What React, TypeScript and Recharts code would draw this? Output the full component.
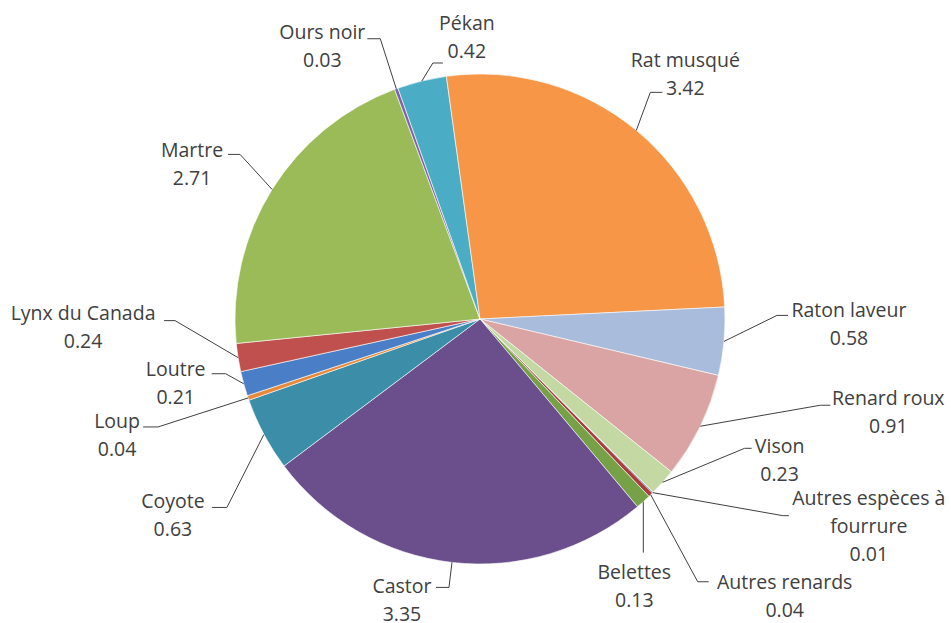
import React from "react";
import { Cell, Pie, PieChart } from "recharts";

// Species, in the order of the source sheet (alphabetical)
const species = [
  "Autres espèces à fourrure",
  "Autres renards",
  "Belettes",
  "Castor",
  "Coyote",
  "Loup",
  "Loutre",
  "Lynx du Canada",
  "Martre",
  "Ours noir",
  "Pékan",
  "Rat musqué",
  "Raton laveur",
  "Renard roux",
  "Vison",
];

const values = [
  0.01, 0.04, 0.13, 3.35, 0.63, 0.04, 0.21, 0.24, 2.71, 0.03, 0.42, 3.42, 0.58,
  0.91, 0.23,
];

const colors = [
  "#4F81BD",
  "#A5403C",
  "#77A146",
  "#6B4F8C",
  "#3C8EA8",
  "#E58A3C",
  "#4A7EC6",
  "#C0504D",
  "#9BBB59",
  "#8064A2",
  "#4BACC6",
  "#F79646",
  "#A9BCDB",
  "#D9A4A3",
  "#C4D8A3",
];

// Leader line / label placement, relative to the slice edge point
// elbow = edge + (ex, ey); tail = horizontal stub; text = offset from elbow
const labelLayout = [
  { ex: 130, ey: 23, tail: 6, tx: 86, ty: -18, wrap: 16 },
  { ex: 47, ey: 87, tail: 11, tx: 87, ty: 0 },
  { ex: 0, ey: 51, tail: 0, tx: -9, ty: 19 },
  { ex: -3, ey: 25, tail: -13, tx: -47, ty: -2 },
  { ex: -37, ey: 73, tail: -15, tx: -54, ty: -7 },
  { ex: -90, ey: 29, tail: -15, tx: -41, ty: -6 },
  { ex: -18, ey: -10, tail: -14, tx: -50, ty: -5 },
  { ex: -63, ey: -37, tail: -11, tx: -92, ty: -8 },
  { ex: -32, ey: -35, tail: -12, tx: -48, ty: -5 },
  { ex: -16, ey: -50, tail: -13, tx: -58, ty: -7 },
  { ex: 11, ey: -18, tail: 10, tx: 34, ty: -40 },
  { ex: 14, ey: -38, tail: 12, tx: 35, ty: -33 },
  { ex: 53, ey: -26, tail: 11, tx: 72, ty: -6 },
  { ex: 120, ey: -21, tail: 10, tx: 68, ty: -8 },
  { ex: 82, ey: -34, tail: 7, tx: 35, ty: -3 },
];

const data = species.map((name, i) => ({ name, value: values[i] }));

const RAD = Math.PI / 180;
const LINE_H = 28;
const TEXT = "#404040";

function wrapText(s: string, max?: number): string[] {
  if (!max) return [s];
  const out: string[] = [];
  let cur = "";
  for (const w of s.split(" ")) {
    const next = cur ? `${cur} ${w}` : w;
    if (next.length > max && cur) {
      out.push(cur);
      cur = w;
    } else cur = next;
  }
  if (cur) out.push(cur);
  return out;
}

function renderLabel(props: any) {
  const { cx, cy, midAngle, outerRadius, index, name, value } = props;
  const lay = labelLayout[index];
  const x0 = cx + outerRadius * Math.cos(-midAngle * RAD);
  const y0 = cy + outerRadius * Math.sin(-midAngle * RAD);
  const x1 = x0 + lay.ex;
  const y1 = y0 + lay.ey;
  const x2 = x1 + lay.tail;
  const lines = [...wrapText(name, lay.wrap), Number(value).toFixed(2)];
  const tx = x1 + lay.tx;
  const ty = y1 + lay.ty;
  return (
    <g key={`lbl-${index}`}>
      <polyline
        points={`${x0},${y0} ${x1},${y1} ${x2},${y1}`}
        fill="none"
        stroke="#404040"
        strokeWidth={1}
      />
      {lines.map((ln, j) => (
        <text
          key={j}
          x={tx}
          y={ty + j * LINE_H}
          textAnchor="middle"
          dominantBaseline="central"
          fill={TEXT}
          fontSize={19.5}
          fontFamily="'Open Sans', sans-serif"
        >
          {ln}
        </text>
      ))}
    </g>
  );
}

export default function App() {
  return (
    <div
      style={{
        position: "absolute",
        left: 0,
        top: 0,
        width: 951,
        height: 623,
        background: "#ffffff",
        overflow: "hidden",
      }}
    >
      <PieChart
        width={951}
        height={623}
        margin={{ top: 0, right: 0, bottom: 0, left: 0 }}
      >
        <Pie
          data={data}
          dataKey="value"
          nameKey="name"
          cx={480}
          cy={319}
          outerRadius={245}
          startAngle={-45}
          endAngle={-405}
          stroke="#ffffff"
          strokeWidth={0.6}
          label={renderLabel}
          labelLine={false}
          isAnimationActive={false}
        >
          {data.map((d, i) => (
            <Cell key={d.name} fill={colors[i]} />
          ))}
        </Pie>
      </PieChart>
    </div>
  );
}
